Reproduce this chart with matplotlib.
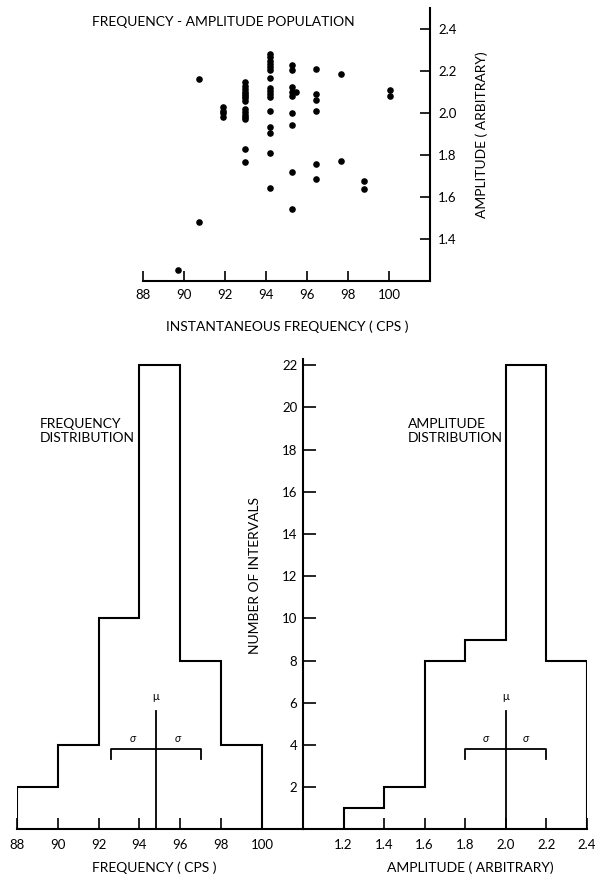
import numpy as np
import matplotlib
matplotlib.use('Agg')
import matplotlib.pyplot as plt

plt.rcParams['font.family'] = ['Lato', 'DejaVu Sans']

########################################################## data
# frequency-amplitude population (one entry per interval)
freq = [89.7,
        90.75, 90.75,
        91.9, 91.9, 91.9, 91.9,
        93.0, 93.0, 93.0, 93.0, 93.0, 93.0, 93.0, 93.0, 93.0, 93.0, 93.0, 93.0, 93.0, 93.0, 93.0,
        94.2, 94.2, 94.2, 94.2, 94.2, 94.2, 94.2, 94.2, 94.2, 94.2, 94.2, 94.2, 94.2, 94.2, 94.2, 94.2,
        95.25, 95.25, 95.25, 95.25, 95.25, 95.25, 95.25, 95.25, 95.25, 95.45,
        96.45, 96.45, 96.45, 96.45, 96.45, 96.45,
        97.65, 97.65,
        98.8, 98.8,
        100.05, 100.05]
amp = [1.25,
       2.16, 1.48,
       2.03, 2.01, 2.0, 1.98,
       2.15, 2.13, 2.115, 2.10, 2.09, 2.08, 2.07, 2.055, 2.02, 2.005, 1.99, 1.98, 1.97, 1.83, 1.765,
       2.28, 2.265, 2.25, 2.235, 2.22, 2.205, 2.165, 2.12, 2.105, 2.09, 2.075, 2.01, 1.935, 1.905, 1.81, 1.645,
       2.23, 2.205, 2.125, 2.10, 2.08, 2.0, 1.945, 1.72, 1.545, 2.10,
       2.21, 2.09, 2.06, 2.01, 1.755, 1.685,
       2.185, 1.77,
       1.675, 1.64,
       2.11, 2.08]

# histograms
freq_edges = [88, 90, 92, 94, 96, 98, 100]
freq_counts = [2, 4, 10, 22, 8, 4]
amp_edges = [1.2, 1.4, 1.6, 1.8, 2.0, 2.2, 2.4]
amp_counts = [1, 2, 8, 9, 22, 8]

freq_mu = 94.8
freq_sigma = 2.2
amp_mu = 2.0
amp_sigma = 0.2

freq_ticks = [88, 90, 92, 94, 96, 98, 100]
amp_ticks = [1.2, 1.4, 1.6, 1.8, 2.0, 2.2, 2.4]
scat_yticks = [1.4, 1.6, 1.8, 2.0, 2.2, 2.4]
count_ticks = [2, 4, 6, 8, 10, 12, 14, 16, 18, 20, 22]

fig = plt.figure(figsize=(5.95, 8.8), dpi=100)

LW = 1.5
FS = 9.5
LFS = 10

########################################################## scatter
ax = fig.add_axes([0.2403, 0.6807, 0.4824, 0.3102])
ax.scatter(freq, amp, s=14, color='k', zorder=3)
ax.set_xlim(88, 102)
ax.set_ylim(1.2, 2.5)
ax.set_xticks(freq_ticks)
ax.set_yticks(scat_yticks)
ax.set_yticklabels(['%.1f' % v for v in scat_yticks])
ax.yaxis.tick_right()
ax.spines['top'].set_visible(False)
ax.spines['left'].set_visible(False)
ax.spines['right'].set_linewidth(LW)
ax.spines['bottom'].set_linewidth(LW)
ax.tick_params(direction='in', length=7, width=1.2, labelsize=FS)
ax.tick_params(axis='x', pad=6)
ax.tick_params(axis='y', pad=6)
fig.text(92 / 595, 1 - 22 / 880, 'FREQUENCY - AMPLITUDE POPULATION', fontsize=10,
         ha='left', va='center')
ax.text(1.18, 0.535, 'AMPLITUDE ( ARBITRARY)', transform=ax.transAxes, rotation=90,
        ha='center', va='center', fontsize=LFS)
fig.text(287 / 595, 1 - 327 / 880, 'INSTANTANEOUS FREQUENCY ( CPS )', fontsize=LFS,
         ha='center', va='center')

########################################################## frequency histogram
ax1 = fig.add_axes([0.0281, 0.0574, 0.4812, 0.5347])
ax1.stairs(freq_counts, freq_edges, color='k', linewidth=LW)
ax1.set_xlim(88, 102)
ax1.set_ylim(0, 22.3)
ax1.set_xticks(freq_ticks)
ax1.set_yticks([])
for s in ['top', 'left', 'right']:
    ax1.spines[s].set_visible(False)
ax1.spines['bottom'].set_linewidth(LW)
ax1.tick_params(axis='x', direction='in', length=8, width=1.2, labelsize=FS, pad=7)

# mean / sigma marker
ax1.plot([freq_mu, freq_mu], [0, 5.6], color='k', lw=1.3)
ax1.plot([freq_mu - freq_sigma, freq_mu - freq_sigma, freq_mu + freq_sigma, freq_mu + freq_sigma],
         [3.35, 3.8, 3.8, 3.35], color='k', lw=1.3)
ax1.text(freq_mu, 6.3, 'μ', ha='center', va='center', fontsize=8)
ax1.text(freq_mu - freq_sigma / 2, 4.3, 'σ', ha='center', va='center', fontsize=8, style='italic')
ax1.text(freq_mu + freq_sigma / 2, 4.3, 'σ', ha='center', va='center', fontsize=8, style='italic')
ax1.text(89.15, 19.5, 'FREQUENCY\nDISTRIBUTION', ha='left', va='top', fontsize=LFS, linespacing=1.2)
fig.text(154 / 595, 1 - 868 / 880, 'FREQUENCY ( CPS )', ha='center', va='center', fontsize=LFS)

########################################################## amplitude histogram
ax2 = fig.add_axes([0.5092, 0.0574, 0.4768, 0.5347])
ax2.stairs(amp_counts, amp_edges, color='k', linewidth=LW)
ax2.set_xlim(1.0, 2.4)
ax2.set_ylim(0, 22.3)
ax2.set_xticks(amp_ticks)
ax2.set_xticklabels(['%.1f' % v for v in amp_ticks])
ax2.set_yticks(count_ticks)
for s in ['top', 'right']:
    ax2.spines[s].set_visible(False)
ax2.spines['bottom'].set_linewidth(LW)
ax2.spines['left'].set_linewidth(LW)
ax2.tick_params(axis='x', direction='in', length=8, width=1.2, labelsize=FS, pad=7)
ax2.tick_params(axis='y', direction='in', length=9, width=1.2, labelsize=FS, pad=4)

ax2.plot([amp_mu, amp_mu], [0, 5.6], color='k', lw=1.3)
ax2.plot([amp_mu - amp_sigma, amp_mu - amp_sigma, amp_mu + amp_sigma, amp_mu + amp_sigma],
         [3.35, 3.8, 3.8, 3.35], color='k', lw=1.3)
ax2.text(amp_mu, 6.3, 'μ', ha='center', va='center', fontsize=8)
ax2.text(amp_mu - amp_sigma / 2, 4.3, 'σ', ha='center', va='center', fontsize=8, style='italic')
ax2.text(amp_mu + amp_sigma / 2, 4.3, 'σ', ha='center', va='center', fontsize=8, style='italic')
ax2.text(1.517, 19.5, 'AMPLITUDE\nDISTRIBUTION', ha='left', va='top', fontsize=LFS, linespacing=1.2)
ax2.text(-0.169, 0.539, 'NUMBER OF INTERVALS', transform=ax2.transAxes, rotation=90,
         ha='center', va='center', fontsize=LFS)
fig.text(470 / 595, 1 - 868 / 880, 'AMPLITUDE ( ARBITRARY)', ha='center', va='center', fontsize=LFS)

plt.savefig('out.png', dpi=100)
